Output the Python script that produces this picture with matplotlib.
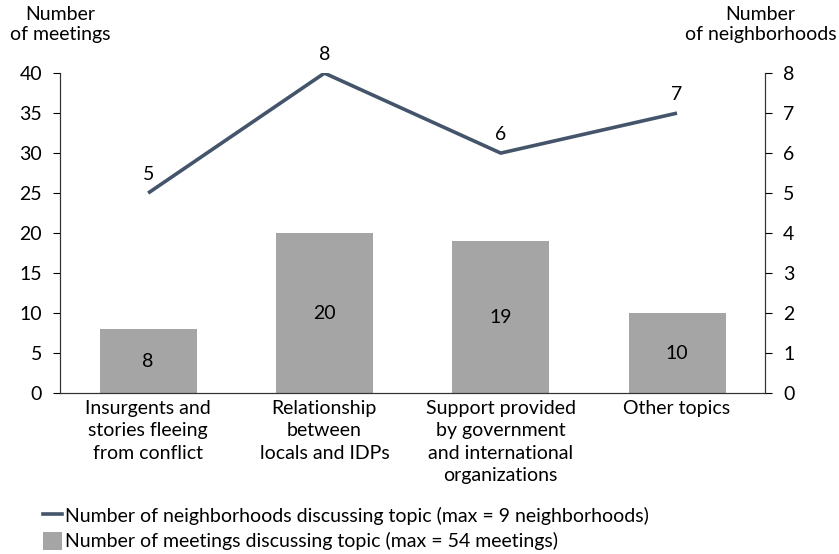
import numpy as np
import matplotlib.pyplot as plt
from matplotlib.lines import Line2D
from matplotlib.patches import Patch

plt.rcParams['font.family'] = ['Lato', 'DejaVu Sans']
plt.rcParams['font.size'] = 14

categories = ['Insurgents and\nstories fleeing\nfrom conflict',
              'Relationship\nbetween\nlocals and IDPs',
              'Support provided\nby government\nand international\norganizations',
              'Other topics']
meetings = [8, 20, 19, 10]
neighborhoods = [5, 8, 6, 7]

bar_color = '#a5a5a5'
line_color = '#44546a'

fig = plt.figure(figsize=(8.39, 5.54), dpi=100)
ax = fig.add_axes([0.0715, 0.2906, 0.8405, 0.5774])
ax2 = ax.twinx()

x = np.arange(len(categories))
ax.bar(x, meetings, width=0.55, color=bar_color, zorder=1)
for xi, v in zip(x, meetings):
    ax.text(xi, v / 2, str(v), ha='center', va='center', fontsize=14)

ax2.plot(x, neighborhoods, color=line_color, linewidth=2.6, solid_capstyle='butt')
for xi, v in zip(x, neighborhoods):
    ax2.text(xi, v + 0.25, str(v), ha='center', va='bottom', fontsize=14)

ax.set_xlim(-0.5, len(categories) - 0.5)
ax.set_ylim(0, 40)
ax.set_yticks(range(0, 41, 5))
ax2.set_ylim(0, 8)
ax2.set_yticks(range(0, 9))

ax.set_xticks(x)
ax.set_xticklabels(categories, fontsize=14, linespacing=1.38)
ax.tick_params(axis='x', length=0, pad=5)
ax.tick_params(axis='y', direction='out', length=5, width=0.8, labelsize=14, pad=8)
ax2.tick_params(axis='y', direction='out', length=5, width=0.8, labelsize=14, pad=8)

for a in (ax, ax2):
    a.spines['top'].set_visible(False)
    for s in ('left', 'right', 'bottom'):
        a.spines[s].set_linewidth(0.8)
        a.spines[s].set_color('#333333')

fig.text(0.0715, 0.99, 'Number\nof meetings', ha='center', va='top', fontsize=14, linespacing=1.28)
fig.text(0.997, 0.99, 'Number\nof neighborhoods', ha='right', va='top', fontsize=14,
         multialignment='center', linespacing=1.28)

handles = [Line2D([0], [0], color=line_color, linewidth=2.6),
           Patch(facecolor=bar_color)]
labels = ['Number of neighborhoods discussing topic (max = 9 neighborhoods)',
          'Number of meetings discussing topic (max = 54 meetings)']
fig.legend(handles, labels, loc='lower left', bbox_to_anchor=(0.03, -0.025), frameon=False,
           fontsize=14, handlelength=1.0, handleheight=1.05, handletextpad=0.15,
           labelspacing=0.35)

fig.savefig('out.png', dpi=100)
